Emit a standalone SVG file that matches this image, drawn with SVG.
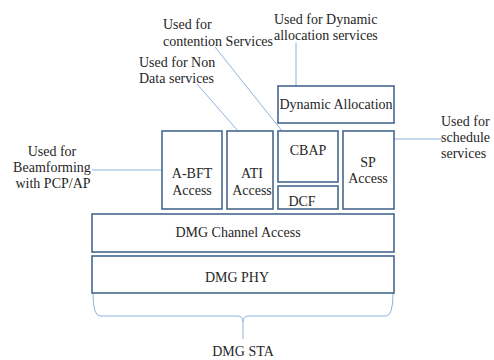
<svg xmlns="http://www.w3.org/2000/svg" width="494" height="360" viewBox="0 0 494 360" font-family="Liberation Serif, Times New Roman, DejaVu Serif, serif" font-size="14">
<style>
.box{fill:#fff;stroke:#46678f;stroke-width:1.6}
text{fill:#262626}
.m{text-anchor:middle}
.c{stroke:#8db2df;stroke-width:1;fill:none}
</style>
<rect width="494" height="360" fill="#fff"/>
<g id="connectors">
<line class="c" x1="296" y1="43" x2="296" y2="86"/>
<line class="c" x1="215" y1="47" x2="282" y2="131"/>
<line class="c" x1="197" y1="84" x2="238" y2="131"/>
<line class="c" x1="92" y1="170" x2="162" y2="170"/>
<line class="c" x1="394" y1="139" x2="442" y2="139"/>
<path class="c" d="M93,293 Q93,316 100,316 L238,316 Q243,316 243,322 L243,339 M243,322 Q243,316 248,316 L386,316 Q393,316 393,293"/>
</g>
<g id="dynamic-allocation"><rect class="box" x="278" y="86" width="116" height="37"/><text class="m" x="336" y="109">Dynamic Allocation</text></g>
<g id="abft"><rect class="box" x="162" y="131" width="60" height="78"/><text class="m" x="192" y="178">A-BFT</text><text class="m" x="192" y="195">Access</text></g>
<g id="ati"><rect class="box" x="227" y="131" width="46" height="78"/><text class="m" x="252" y="178">ATI</text><text class="m" x="252" y="195">Access</text></g>
<g id="cbap"><rect class="box" x="278" y="131" width="60" height="51"/><text class="m" x="308" y="155">CBAP</text></g>
<g id="dcf"><rect class="box" x="278" y="186" width="60" height="23"/><text class="m" x="302" y="206">DCF</text></g>
<g id="sp"><rect class="box" x="343" y="131" width="51" height="78"/><text class="m" x="368" y="167">SP</text><text class="m" x="368" y="183">Access</text></g>
<g id="channel-access"><rect class="box" x="92" y="214" width="302" height="38"/><text class="m" x="238" y="237">DMG Channel Access</text></g>
<g id="phy"><rect class="box" x="92" y="256" width="302" height="37"/><text class="m" x="237" y="282">DMG PHY</text></g>
<g id="labels">
<text x="274" y="24">Used for Dynamic</text>
<text x="274" y="40">allocation services</text>
<text x="163" y="29">Used for</text>
<text x="163" y="46">contention Services</text>
<text x="139" y="67">Used for Non</text>
<text x="139" y="83">Data services</text>
<text x="441" y="126">Used for</text>
<text x="441" y="142">schedule</text>
<text x="441" y="158">services</text>
<text class="m" x="52" y="156">Used for</text>
<text class="m" x="52" y="172">Beamforming</text>
<text class="m" x="53" y="188">with PCP/AP</text>
<text class="m" x="243" y="356">DMG STA</text>
</g>
</svg>
